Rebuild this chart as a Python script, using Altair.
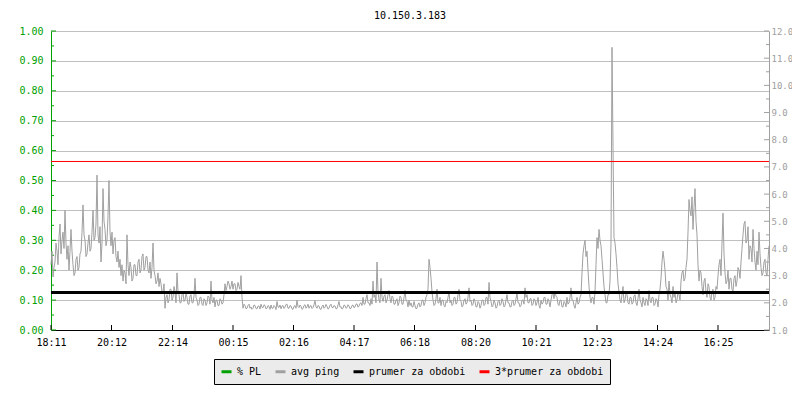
import json
import altair as alt
import pandas as pd

TITLE = "10.150.3.183"
SAMPLE_MINUTES = 2

# avg ping (ms), one sample every 2 minutes starting 18:11
ping_ms = [
    3.4, 3.9, 2.95, 3.3, 3.5, 4.2, 3.9, 3.4, 4.4, 4.9, 3.8, 4.3, 4.6, 4.0, 5.4, 4.2, 3.6, 4.1, 3.2, 3.9,
    4.7, 3.9, 3.4, 3.0, 3.1, 3.6, 3.7, 3.2, 3.3, 3.8, 3.9, 4.6, 5.6, 4.5, 4.3, 3.7, 3.8, 4.2, 4.5, 3.9,
    4.0, 4.6, 5.4, 4.3, 4.4, 4.9, 6.7, 4.5, 4.2, 4.8, 3.5, 4.2, 6.2, 5.0, 4.7, 4.1, 4.3, 5.2, 6.5, 4.6,
    4.1, 4.6, 3.8, 4.3, 4.4, 3.7, 3.5, 3.9, 3.3, 3.6, 3.0, 3.4, 2.8, 3.2, 3.1, 2.7, 4.5, 3.4, 3.0, 3.5,
    3.3, 2.8, 2.9, 3.4, 3.4, 3.0, 3.0, 3.5, 3.6, 3.1, 3.2, 3.7, 3.8, 3.2, 3.3, 3.7, 3.7, 3.2, 3.1, 3.5,
    2.9, 3.3, 4.2, 3.2, 3.0, 2.7, 2.8, 3.1, 2.6, 2.9, 2.7, 2.4, 2.4, 2.7, 1.8, 2.2, 2.3, 2.0, 2.1, 2.5,
    2.5, 2.1, 2.2, 2.6, 2.4, 2.0, 3.1, 2.4, 2.3, 2.0, 2.0, 2.3, 2.4, 2.05, 2.1, 2.35, 2.2, 1.95, 1.95, 2.25,
    2.3, 2.0, 2.0, 2.25, 2.9, 2.2, 2.1, 1.9, 1.95, 2.2, 2.2, 1.95, 1.9, 2.15, 2.1, 1.9, 2.0, 2.25, 2.2, 1.95,
    2.8, 2.1, 2.0, 2.2, 1.85, 2.1, 2.1, 1.9, 1.9, 2.15, 2.1, 1.95, 2.0, 2.3, 2.7, 2.45, 2.6, 2.8, 2.7, 2.5,
    2.6, 2.8, 2.5, 2.7, 2.7, 2.45, 2.5, 2.75, 2.6, 2.5, 3.0, 2.2, 1.8, 1.95, 1.9, 1.78, 1.8, 1.9, 1.95, 1.8,
    1.85, 1.76, 1.8, 1.92, 1.9, 1.79, 1.78, 1.88, 1.88, 1.77, 1.95, 1.83, 1.82, 1.93, 1.9, 1.78, 1.8, 1.9, 1.87, 1.76,
    1.92, 1.8, 1.8, 1.9, 1.86, 1.75, 2.05, 1.85, 1.83, 1.92, 1.78, 1.88, 1.9, 1.79, 1.84, 1.94, 1.95, 1.8, 1.8, 1.9,
    1.88, 1.78, 1.76, 1.87, 1.9, 1.8, 2.1, 1.86, 1.82, 1.92, 1.87, 1.76, 1.79, 1.9, 1.93, 1.8, 1.85, 1.95, 1.8, 1.88,
    1.9, 1.79, 1.83, 1.93, 2.08, 1.85, 1.8, 1.9, 1.88, 1.77, 1.76, 1.86, 1.92, 1.8, 1.84, 1.94, 1.87, 1.77, 1.8, 1.91,
    1.95, 1.83, 1.82, 1.9, 1.88, 1.78, 1.79, 1.92, 2.05, 1.84, 1.86, 1.77, 1.8, 1.92, 1.9, 1.8, 1.83, 1.93, 1.88, 1.78,
    1.8, 1.9, 1.92, 1.82, 1.85, 1.95, 1.96, 1.84, 1.88, 1.98, 2.0, 1.9, 2.2, 1.95, 1.95, 2.15, 2.3, 2.0, 2.0, 1.9,
    2.15, 1.95, 2.8, 2.2, 2.3, 2.0, 3.5, 2.4, 2.1, 2.0, 2.9, 2.2, 2.05, 2.25, 2.3, 2.0, 2.1, 2.3, 2.45, 2.15,
    2.0, 2.25, 2.2, 1.95, 1.95, 2.1, 2.15, 1.9, 2.0, 2.25, 2.2, 1.95, 1.95, 2.2, 2.45, 2.1, 2.05, 1.85, 2.1, 1.9,
    2.0, 1.85, 1.85, 2.05, 1.9, 1.78, 1.8, 1.95, 2.0, 1.85, 1.9, 2.1, 2.1, 1.9, 2.0, 2.2, 2.3, 2.5, 3.6, 3.3,
    2.9, 2.4, 2.1, 1.9, 1.95, 2.15, 2.5, 2.0, 2.0, 2.2, 1.9, 2.1, 2.1, 1.9, 1.85, 2.05, 2.0, 2.2, 2.4, 2.0,
    2.1, 1.9, 1.95, 2.2, 2.2, 1.95, 2.0, 2.3, 2.5, 2.1, 2.05, 1.85, 1.9, 2.1, 2.15, 1.95, 2.0, 2.2, 2.55, 2.05,
    2.1, 1.9, 1.95, 2.15, 2.05, 1.85, 1.85, 2.05, 2.0, 1.8, 1.9, 2.1, 2.1, 1.9, 1.95, 2.2, 2.2, 1.95, 2.75, 2.2,
    2.05, 1.85, 1.9, 2.1, 2.0, 1.8, 1.85, 2.05, 2.1, 1.9, 1.95, 2.15, 2.05, 1.85, 1.9, 2.1, 2.3, 2.0, 2.0, 1.85,
    1.85, 2.05, 2.1, 1.9, 1.95, 2.15, 2.35, 2.0, 2.0, 1.85, 1.9, 2.1, 2.1, 1.95, 2.55, 2.2, 2.3, 2.0, 2.0, 2.15,
    2.15, 1.9, 1.95, 2.15, 2.1, 1.9, 2.0, 2.2, 1.9, 1.8, 2.1, 1.95, 2.0, 2.2, 2.2, 1.95, 1.95, 2.15, 2.05, 1.85,
    2.1, 2.3, 2.35, 2.15, 2.4, 2.25, 2.2, 1.95, 1.9, 2.1, 2.1, 1.85, 1.85, 2.05, 2.0, 1.85, 2.2, 1.95, 2.0, 2.2,
    2.55, 2.1, 2.1, 1.9, 1.8, 2.0, 2.2, 1.95, 2.0, 2.2, 2.3, 3.1, 3.8, 4.1, 4.3, 3.7, 3.9, 3.2, 2.6, 2.2,
    2.0, 2.2, 2.2, 1.95, 2.4, 3.4, 4.4, 4.0, 4.7, 4.3, 4.1, 3.6, 3.1, 2.6, 2.3, 2.0, 2.0, 2.3, 2.3, 2.8,
    4.2, 11.4, 7.7, 4.4, 4.2, 3.8, 3.3, 2.7, 2.4, 2.1, 2.0, 2.3, 2.6, 2.0, 2.1, 2.35, 2.3, 2.0, 1.95, 2.2,
    2.2, 1.95, 2.0, 2.25, 2.3, 2.0, 1.9, 2.15, 2.5, 2.1, 2.0, 1.85, 2.2, 2.0, 1.9, 2.15, 2.1, 1.9, 2.45, 2.1,
    2.0, 2.2, 2.2, 1.9, 1.95, 2.15, 2.1, 1.85, 2.3, 2.5, 2.9, 3.5, 3.9, 3.6, 3.2, 2.6, 2.5, 2.1, 2.8, 2.3,
    2.2, 2.0, 2.6, 2.2, 2.4, 2.0, 2.1, 2.4, 2.3, 2.1, 2.8, 3.1, 3.2, 2.8, 2.9, 3.3, 3.6, 4.6, 5.8, 5.4,
    5.2, 5.9, 4.7, 5.5, 6.2, 5.0, 4.5, 3.4, 2.8, 3.2, 3.1, 2.6, 2.3, 2.8, 2.9, 2.4, 2.2, 2.7, 2.6, 2.2,
    2.1, 2.4, 2.5, 2.1, 2.2, 2.6, 2.5, 3.0, 3.4, 3.6, 3.0, 4.2, 5.3, 3.8, 3.1, 2.7, 2.8, 3.2, 2.5, 2.9,
    2.9, 2.5, 2.4, 2.9, 3.0, 2.6, 2.8, 3.3, 3.2, 2.9, 3.5, 4.0, 4.5, 4.9, 5.0, 4.2, 4.3, 4.8, 3.6, 4.1,
    4.0, 3.5, 4.7, 4.0, 3.5, 3.2, 3.9, 3.4, 4.6, 3.8, 3.3, 3.0, 3.1, 3.5, 3.6, 3.1, 3.0, 3.6, 4.1,
]
minutes = [i * SAMPLE_MINUTES for i in range(len(ping_ms))]

x_end_minute = 1436
x_tick_minutes = [0, 121, 243, 364, 485, 606, 727, 849, 970, 1092, 1213, 1334]
x_tick_labels = ["18:11", "20:12", "22:14", "00:15", "02:16", "04:17",
                 "06:18", "08:20", "10:21", "12:23", "14:24", "16:25"]

pl_major = [0.0, 0.1, 0.2, 0.3, 0.4, 0.5, 0.6, 0.7, 0.8, 0.9, 1.0]
pl_minor = [0.05, 0.15, 0.25, 0.35, 0.45, 0.55, 0.65, 0.75, 0.85, 0.95]
ms_major = [1.0, 2.0, 3.0, 4.0, 5.0, 6.0, 7.0, 8.0, 9.0, 10.0, 11.0, 12.0]
ms_minor = [1.5, 2.5, 3.5, 4.5, 5.5, 6.5, 7.5, 8.5, 9.5, 10.5, 11.5]

prumer_ms = 2.38
prumer3_ms = 7.2

series_names = ["% PL", "avg ping", "prumer za obdobi", "3*prumer za obdobi"]
series_colors = ["#00a000", "#a0a0a0", "#000000", "#ff0000"]

FONT = "DejaVu Sans Mono"
W, H = 718, 299
GREEN = "#00a000"
GREY = "#a0a0a0"

x_scale = alt.Scale(domain=[0, x_end_minute], nice=False, zero=False)
label_expr = f"{json.dumps(x_tick_labels)}[indexof({json.dumps(x_tick_minutes)}, datum.value)]"
x_axis = alt.Axis(values=x_tick_minutes, labelExpr=label_expr, ticks=False, grid=False,
                  domainColor="#000000", domainWidth=1, labelColor="#000000",
                  labelFont=FONT, labelFontSize=10, labelPadding=7, title=None,
                  orient="bottom", labelFlush=False)

left_scale = alt.Scale(domain=[0, 1], nice=False, zero=False)
left_axis = alt.Axis(values=pl_major, format=".2f", grid=True, gridColor="#c0c0c0",
                     gridWidth=1, ticks=False, domainColor=GREEN, labelColor=GREEN,
                     labelFont=FONT, labelFontSize=10, labelPadding=8, title=None,
                     orient="left", labelFlush=False)

right_scale = alt.Scale(domain=[1, 12], nice=False, zero=False)
right_axis = alt.Axis(values=ms_major, format=".1f", grid=False, ticks=False,
                      domainColor=GREY, labelColor=GREY, labelFont=FONT,
                      labelFontSize=9, labelPadding=2, title=None, orient="right",
                      labelFlush=False)

color = alt.Color(
    "series:N",
    scale=alt.Scale(domain=series_names, range=series_colors),
    legend=alt.Legend(title=None, orient="none", legendX=163, legendY=328,
                      direction="horizontal", columns=4, symbolType="stroke",
                      symbolSize=100, symbolStrokeWidth=3, labelFont=FONT,
                      labelFontSize=10, labelColor="#000000", fillColor="#ebebeb",
                      strokeColor="#000000", padding=6, columnPadding=7,
                      labelOffset=4, cornerRadius=0),
)

ping_df = pd.DataFrame({"minute": minutes, "ms": ping_ms, "series": "avg ping"})
avg_df = pd.DataFrame({"ms": [prumer_ms], "series": ["prumer za obdobi"]})
avg3_df = pd.DataFrame({"ms": [prumer3_ms], "series": ["3*prumer za obdobi"]})

lt_major = alt.Chart(pd.DataFrame({"pl": pl_major})).mark_rule(color=GREEN).encode(
    y=alt.Y("pl:Q", scale=left_scale, axis=left_axis), x=alt.value(0), x2=alt.value(5))
lt_minor = alt.Chart(pd.DataFrame({"pl": pl_minor})).mark_rule(color=GREEN).encode(
    y=alt.Y("pl:Q", scale=left_scale, axis=left_axis), x=alt.value(0), x2=alt.value(3))
left = alt.layer(lt_major, lt_minor)

ping = alt.Chart(ping_df).mark_line(strokeWidth=1).encode(
    x=alt.X("minute:Q", scale=x_scale, axis=x_axis),
    y=alt.Y("ms:Q", scale=right_scale, axis=right_axis),
    color=color)
avg = alt.Chart(avg_df).mark_rule(strokeWidth=3).encode(
    y=alt.Y("ms:Q", scale=right_scale, axis=right_axis), color=color)
avg3 = alt.Chart(avg3_df).mark_rule(strokeWidth=1).encode(
    y=alt.Y("ms:Q", scale=right_scale, axis=right_axis), color=color)
rt_major = alt.Chart(pd.DataFrame({"ms": ms_major})).mark_rule(color=GREY).encode(
    y=alt.Y("ms:Q", scale=right_scale, axis=right_axis), x=alt.value(W - 5), x2=alt.value(W))
rt_minor = alt.Chart(pd.DataFrame({"ms": ms_minor})).mark_rule(color=GREY).encode(
    y=alt.Y("ms:Q", scale=right_scale, axis=right_axis), x=alt.value(W - 3), x2=alt.value(W))
xt = alt.Chart(pd.DataFrame({"minute": x_tick_minutes})).mark_rule(color="#000000").encode(
    x=alt.X("minute:Q", scale=x_scale, axis=x_axis), y=alt.value(H - 5), y2=alt.value(H))
right = alt.layer(ping, avg, avg3, rt_major, rt_minor, xt)

chart = alt.layer(left, right).resolve_scale(y="independent").properties(
    width=W, height=H,
    title=alt.TitleParams(TITLE, font=FONT, fontSize=10, fontWeight="normal",
                          color="#000000", anchor="middle", offset=5, frame="group"),
    autosize=alt.AutoSizeParams(type="none"),
    padding={"left": 43, "top": 23, "right": 23, "bottom": 60},
).configure(font=FONT).configure_view(stroke=None)

chart.save("out.html", embed_options={"renderer": "svg", "actions": False})
